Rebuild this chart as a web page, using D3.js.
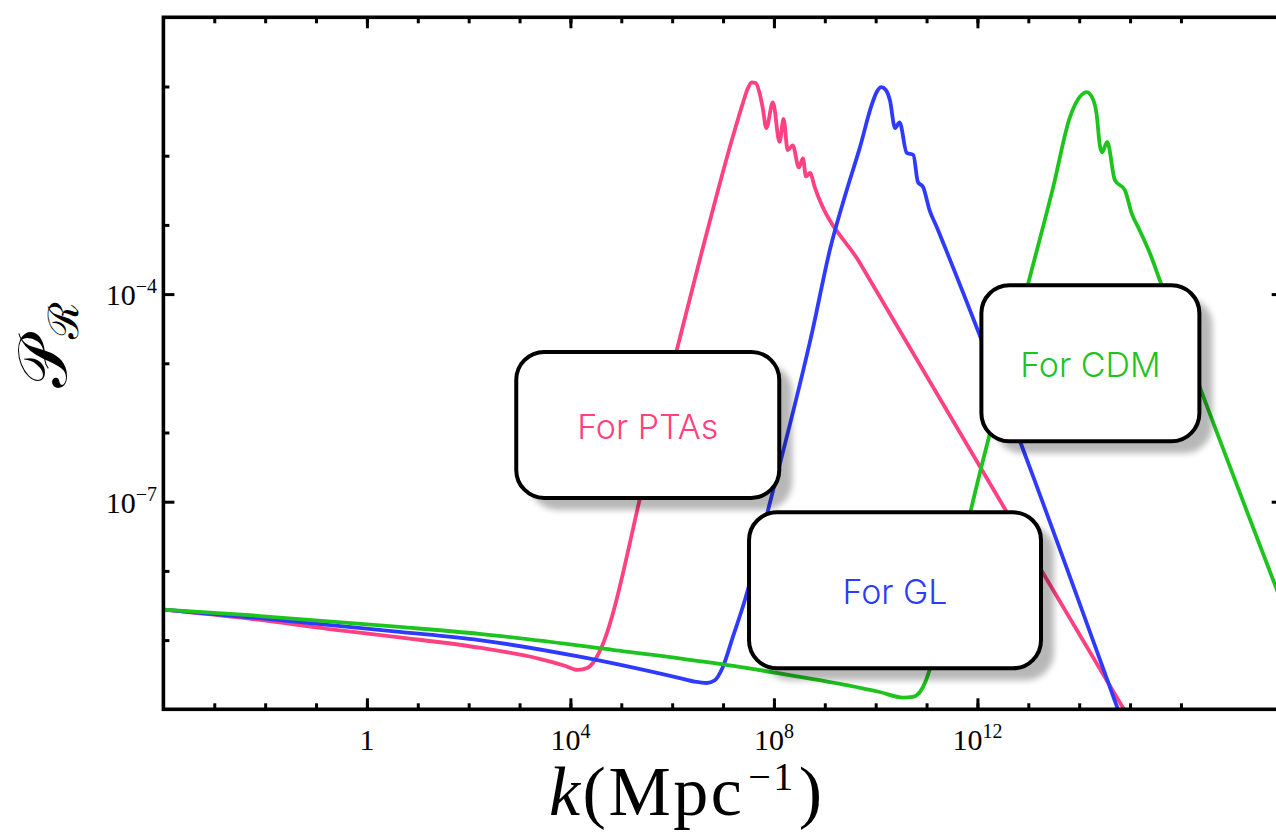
<!DOCTYPE html>
<meta charset="utf-8">
<body style="margin:0;background:#fff">
<div id="chart"></div>
<script src="https://d3js.org/d3.v7.min.js"></script>
<script>

// curves, as log10 k (Mpc^-1) and log10 P_R
var ptaLogK = [-4, -2.31, -0.74, 0.64, 2.21, 3.39, 3.89, 4.14, 4.34, 4.48, 4.57, 5.56, 6.54, 7.19, 7.39, 7.48, 7.56, 7.64, 7.72, 7.78, 7.85, 7.98, 8.11, 8.19, 8.27, 8.37, 8.49, 8.57, 8.63, 8.71, 8.80, 9.69, 12.44, 15.0];
var ptaLogP = [-8.56, -8.69, -8.84, -8.96, -9.11, -9.27, -9.37, -9.43, -9.40, -9.29, -9.17, -6.35, -3.51, -1.73, -1.24, -1.04, -0.94, -0.95, -1.10, -1.31, -1.60, -1.23, -1.80, -1.47, -1.92, -1.85, -2.17, -2.04, -2.30, -2.25, -2.45, -3.55, -6.98, -10.15];

var glLogK = [-4, -2.31, 0.64, 2.21, 4.18, 6.15, 6.44, 6.68, 6.84, 6.99, 7.19, 7.43, 7.92, 8.76, 9.10, 9.43, 9.69, 9.92, 10.02, 10.11, 10.20, 10.28, 10.38, 10.47, 10.61, 10.74, 10.83, 10.93, 11.06, 11.20, 11.36, 14.80];
var glLogP = [-8.56, -8.67, -8.88, -9.00, -9.24, -9.55, -9.60, -9.62, -9.58, -9.40, -8.96, -8.42, -7.02, -4.52, -3.36, -2.50, -1.88, -1.27, -1.08, -1.01, -1.05, -1.20, -1.60, -1.52, -1.96, -1.99, -2.38, -2.45, -2.79, -3.03, -3.32, -10.08];

var cdmLogK = [-4, -2.31, 0.64, 2.21, 4.83, 6.80, 8.11, 9.43, 10.08, 10.54, 10.73, 10.87, 10.99, 11.06, 12.11, 13.00, 13.49, 13.82, 14.01, 14.15, 14.28, 14.34, 14.41, 14.45, 14.55, 14.70, 14.90, 15.03, 15.19, 15.39, 15.59, 18.0];
var cdmLogP = [-8.56, -8.64, -8.81, -8.91, -9.14, -9.33, -9.48, -9.65, -9.75, -9.83, -9.82, -9.75, -9.58, -9.43, -6.40, -3.84, -2.45, -1.44, -1.15, -1.08, -1.20, -1.39, -1.87, -1.95, -1.80, -2.35, -2.50, -2.83, -3.08, -3.41, -3.81, -8.49];

var seriesNames = ["For PTAs", "For GL", "For CDM"];
var seriesColors = ["#ff4081", "#2e3bff", "#1ec41e"];

// annotation boxes: centre in log10 k / log10 P
var boxLogK = [5.52, 10.38, 14.22];
var boxLogP = [-5.89, -8.28, -5.00];

var xMinor = d3.range(-3, 17);
var xMajor = [0, 4, 8, 12];
var yMinor = [-9, -8, -6, -5, -3, -2, -1];
var yMajor = [-7, -4];

var w = 1276, h = 836;
var pL = 163.4, pR = 1282.7, pT = 17.3, pB = 709.3;

var x = d3.scaleLog().domain([1e-4, 1e18]).range([pL, pR]);
var y = d3.scaleLog().domain([1e-10, 1]).range([pB, pT]);
var p10 = function(e) { return Math.pow(10, e); };

var svg = d3.select("#chart").append("svg")
    .attr("width", w)
    .attr("height", h)
    .style("display", "block");

var defs = svg.append("defs");
defs.append("clipPath").attr("id", "plotclip")
  .append("rect")
    .attr("x", pL).attr("y", pT)
    .attr("width", pR - pL).attr("height", pB - pT);
defs.append("filter").attr("id", "soft")
    .attr("x", "-20%").attr("y", "-20%").attr("width", "140%").attr("height", "140%")
  .append("feGaussianBlur").attr("stdDeviation", 3);

function zip(ks, ps) {
    return ks.map(function(k, i) { return [p10(k), p10(ps[i])]; });
}
var curves = [zip(ptaLogK, ptaLogP), zip(glLogK, glLogP), zip(cdmLogK, cdmLogP)];

var line = d3.line()
    .x(function(d) { return x(d[0]); })
    .y(function(d) { return y(d[1]); })
    .curve(d3.curveMonotoneX);

svg.append("g")
    .attr("clip-path", "url(#plotclip)")
  .selectAll("path")
  .data(curves)
  .enter().append("path")
    .attr("d", line)
    .attr("fill", "none")
    .attr("stroke", function(d, i) { return seriesColors[i]; })
    .attr("stroke-width", 3.8)
    .attr("stroke-linejoin", "round");

// frame + inward ticks
function styleAxis(g) {
    g.select(".domain").remove();
    g.selectAll("line").attr("stroke", "#000").attr("stroke-width", 3);
    g.selectAll("text").remove();
}
var kMinor = xMinor.map(p10), kMajor = xMajor.map(p10);
var pMinor = yMinor.map(p10), pMajor = yMajor.map(p10);

svg.append("g").attr("transform", "translate(0," + pB + ")")
    .call(d3.axisBottom(x).tickValues(kMinor).tickSize(-6)).call(styleAxis);
svg.append("g").attr("transform", "translate(0," + pB + ")")
    .call(d3.axisBottom(x).tickValues(kMajor).tickSize(-11)).call(styleAxis);
svg.append("g").attr("transform", "translate(0," + pT + ")")
    .call(d3.axisTop(x).tickValues(kMinor).tickSize(-6)).call(styleAxis);
svg.append("g").attr("transform", "translate(0," + pT + ")")
    .call(d3.axisTop(x).tickValues(kMajor).tickSize(-11)).call(styleAxis);
svg.append("g").attr("transform", "translate(" + pL + ",0)")
    .call(d3.axisLeft(y).tickValues(pMinor).tickSize(-6)).call(styleAxis);
svg.append("g").attr("transform", "translate(" + pL + ",0)")
    .call(d3.axisLeft(y).tickValues(pMajor).tickSize(-11)).call(styleAxis);
svg.append("g").attr("transform", "translate(" + pR + ",0)")
    .call(d3.axisRight(y).tickValues(pMinor).tickSize(-6)).call(styleAxis);
svg.append("g").attr("transform", "translate(" + pR + ",0)")
    .call(d3.axisRight(y).tickValues(pMajor).tickSize(-11)).call(styleAxis);

svg.append("rect")
    .attr("x", pL).attr("y", pT)
    .attr("width", pR - pL).attr("height", pB - pT)
    .attr("fill", "none")
    .attr("stroke", "#000")
    .attr("stroke-width", 3.6);

// tick labels
var serif = "'Liberation Serif', 'Times New Roman', serif";

var xl = svg.selectAll(".xlab")
    .data(xMajor)
    .enter().append("text")
    .attr("class", "xlab")
    .attr("x", function(d) { return x(p10(d)); })
    .attr("y", 750)
    .attr("text-anchor", "middle")
    .attr("font-family", serif)
    .attr("font-size", 30);
xl.append("tspan").text(function(d) { return d === 0 ? "1" : "10"; });
xl.filter(function(d) { return d !== 0; })
  .append("tspan")
    .attr("font-size", 20)
    .attr("dy", -12)
    .text(function(d) { return d; });

var yl = svg.selectAll(".ylab")
    .data(yMajor)
    .enter().append("text")
    .attr("class", "ylab")
    .attr("x", 157)
    .attr("y", function(d) { return y(p10(d)) + 11; })
    .attr("text-anchor", "end")
    .attr("font-family", serif)
    .attr("font-size", 30);
yl.append("tspan").text("10");
yl.append("tspan")
    .attr("font-size", 20)
    .attr("dy", -12)
    .text(function(d) { return "\u2212" + Math.abs(d); });

// axis titles
var xt = svg.append("text")
    .attr("x", 549)
    .attr("y", 815)
    .attr("font-family", serif)
    .attr("font-size", 70)
    .attr("letter-spacing", 2.5);
xt.append("tspan").attr("font-style", "italic").text("k");
xt.append("tspan").text("(Mpc");
xt.append("tspan").attr("font-size", 40).attr("dx", 4).attr("dy", -25).text("\u22121");
xt.append("tspan").attr("dx", 3).attr("dy", 25).text(")");

var yt = svg.append("text")
    .attr("transform", "translate(66,345) rotate(-90)")
    .attr("text-anchor", "middle")
    .attr("font-family", serif)
    .attr("font-size", 68);
yt.append("tspan").text("\uD835\uDCAB");
yt.append("tspan").attr("font-size", 42).attr("dy", 12).text("\u211B");

// annotation boxes
var boxW = [263, 292, 218];
var boxH = [146, 156, 156];
var boxes = svg.selectAll(".box")
    .data(seriesNames)
    .enter().append("g")
    .attr("class", "box")
    .attr("transform", function(d, i) {
        return "translate(" + x(p10(boxLogK[i])) + "," + y(p10(boxLogP[i])) + ")";
    });

boxes.append("rect")
    .attr("x", function(d, i) { return -boxW[i] / 2 + 13; })
    .attr("y", function(d, i) { return -boxH[i] / 2 + 12; })
    .attr("width", function(d, i) { return boxW[i]; })
    .attr("height", function(d, i) { return boxH[i]; })
    .attr("rx", 28)
    .attr("fill", "#000")
    .attr("opacity", 0.28)
    .attr("filter", "url(#soft)");

boxes.append("rect")
    .attr("x", function(d, i) { return -boxW[i] / 2; })
    .attr("y", function(d, i) { return -boxH[i] / 2; })
    .attr("width", function(d, i) { return boxW[i]; })
    .attr("height", function(d, i) { return boxH[i]; })
    .attr("rx", 28)
    .attr("fill", "#fff")
    .attr("stroke", "#000")
    .attr("stroke-width", 4);

boxes.append("text")
    .attr("y", 14)
    .attr("text-anchor", "middle")
    .attr("font-family", "Inter, 'Open Sans', sans-serif")
    .attr("font-weight", 300)
    .attr("font-size", 34)
    .attr("fill", function(d, i) { return seriesColors[i]; })
    .text(function(d) { return d; });

</script>
</body>
